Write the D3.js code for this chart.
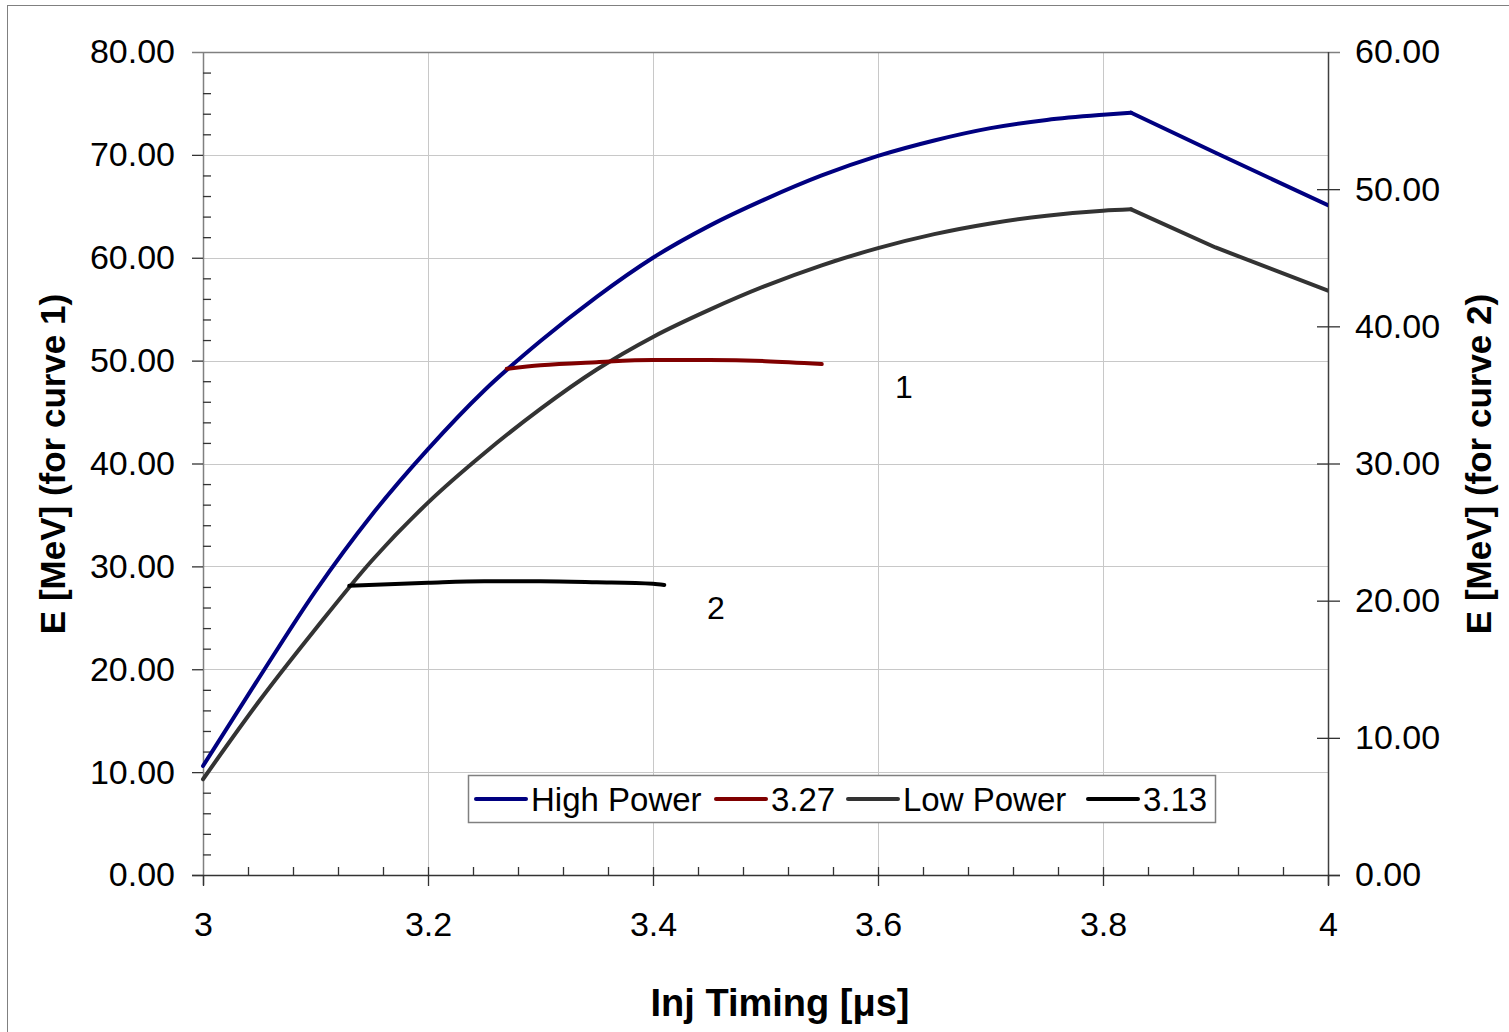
<!DOCTYPE html>
<html>
<head>
<meta charset="utf-8">
<script src="https://cdn.jsdelivr.net/npm/d3@7"></script>
<style>
  html, body { margin: 0; padding: 0; background: #fff; }
  svg { display: block; font-family: "Liberation Sans", Arial, sans-serif; }
</style>
</head>
<body>
<svg id="chart" width="1509" height="1032"></svg>
<script>
// ---- data ----
const xTickValues = [3, 3.2, 3.4, 3.6, 3.8, 4];
const xTickLabels = ["3", "3.2", "3.4", "3.6", "3.8", "4"];
const leftTickValues = [0, 10, 20, 30, 40, 50, 60, 70, 80];
const rightTickValues = [0, 10, 20, 30, 40, 50, 60];

// High Power (left axis, curve 1 family)
const highX = [3.00, 3.05, 3.10, 3.15, 3.20, 3.25, 3.30, 3.35, 3.40, 3.45, 3.50, 3.55, 3.60, 3.65, 3.70, 3.75, 3.80, 3.825, 3.90, 4.00];
const highY = [10.6, 19.2, 27.6, 35.0, 41.4, 47.1, 51.9, 56.2, 60.0, 63.1, 65.7, 68.0, 69.9, 71.4, 72.6, 73.4, 73.9, 74.1, 70.2, 65.1];

// 3.27 (left axis, curve 1)
const c327X = [3.27, 3.30, 3.35, 3.40, 3.45, 3.50, 3.55];
const c327Y = [49.2, 49.55, 49.85, 50.05, 50.05, 49.95, 49.67];

// Low Power (right axis, curve 2 family)
const lowX = [3.00, 3.05, 3.10, 3.15, 3.20, 3.25, 3.30, 3.35, 3.40, 3.45, 3.50, 3.55, 3.60, 3.65, 3.70, 3.75, 3.80, 3.825, 3.90, 4.00];
const lowY = [6.98, 12.68, 17.93, 22.91, 27.15, 30.75, 33.98, 36.85, 39.23, 41.2, 42.95, 44.45, 45.7, 46.72, 47.5, 48.07, 48.43, 48.53, 45.75, 42.6];

// 3.13 (right axis, curve 2)
const c313X = [3.13, 3.20, 3.25, 3.30, 3.35, 3.40, 3.41];
const c313Y = [21.08, 21.3, 21.41, 21.41, 21.34, 21.23, 21.15];

const seriesNames = ["High Power", "3.27", "Low Power", "3.13"];
const seriesColors = ["#000080", "#800000", "#333333", "#000000"];

// ---- layout ----
const svg = d3.select("#chart");
const L = 203, R = 1328, T = 52, B = 875;

const x = d3.scaleLinear().domain([3, 4]).range([L, R]);
const yL = d3.scaleLinear().domain([0, 80]).range([B, T]);
const yR = d3.scaleLinear().domain([0, 60]).range([B, T]);

// outer frame (left + top visible)
svg.append("rect").attr("x", 7.5).attr("y", 5.5).attr("width", 1600).attr("height", 1100)
  .attr("fill", "none").attr("stroke", "#808080").attr("stroke-width", 1);

// gridlines
const grid = svg.append("g");
grid.selectAll(".hg").data(leftTickValues.filter(v => v > 0 && v < 80)).join("line")
  .attr("x1", L).attr("x2", R).attr("y1", d => Math.round(yL(d)) + 0.5).attr("y2", d => Math.round(yL(d)) + 0.5)
  .attr("stroke", "#c8c8c8").attr("stroke-width", 1);
grid.selectAll(".vg").data(xTickValues.filter(v => v > 3 && v < 4)).join("line")
  .attr("y1", T).attr("y2", B).attr("x1", d => Math.round(x(d)) + 0.5).attr("x2", d => Math.round(x(d)) + 0.5)
  .attr("stroke", "#c8c8c8").attr("stroke-width", 1);

// top border line
svg.append("line").attr("x1", 192).attr("x2", 1340).attr("y1", T + 0.5).attr("y2", T + 0.5)
  .attr("stroke", "#808080").attr("stroke-width", 1.5);

function styleAxis(g, color) {
  g.select(".domain").remove();
  g.selectAll(".tick line").attr("stroke", color).attr("stroke-width", 1.3);
  g.selectAll("text").attr("font-size", 34).attr("fill", "#000")
    .attr("font-family", "'Liberation Sans', Arial, sans-serif");
}

// left axis line
svg.append("line").attr("x1", L + 0.5).attr("x2", L + 0.5).attr("y1", T).attr("y2", B + 10)
  .attr("stroke", "#808080").attr("stroke-width", 1.5);

// left axis major ticks + labels
const gLeft = svg.append("g").attr("transform", `translate(${L},0)`)
  .call(d3.axisLeft(yL).tickValues(leftTickValues).tickFormat(d3.format(".2f")).tickSize(11).tickPadding(17));
styleAxis(gLeft, "#333");
gLeft.selectAll(".tick").filter(d => d === 80).select("line").remove();

// left minor ticks (inside)
const leftMinor = d3.range(0, 81, 2).filter(v => v % 10 !== 0);
const gLeftMinor = svg.append("g").attr("transform", `translate(${L},0)`)
  .call(d3.axisLeft(yL).tickValues(leftMinor).tickFormat("").tickSize(-8));
styleAxis(gLeftMinor, "#333");

// right axis
svg.append("line").attr("x1", R + 0.5).attr("x2", R + 0.5).attr("y1", T).attr("y2", B + 10)
  .attr("stroke", "#404040").attr("stroke-width", 1.5);
const gRight = svg.append("g").attr("transform", `translate(${R},0)`)
  .call(d3.axisRight(yR).tickValues(rightTickValues).tickFormat(d3.format(".2f")).tickSize(12).tickPadding(15));
styleAxis(gRight, "#333");
gRight.selectAll(".tick").filter(d => d === 60).select("line").remove();
const gRightIn = svg.append("g").attr("transform", `translate(${R},0)`)
  .call(d3.axisRight(yR).tickValues(rightTickValues.filter(v => v > 0 && v < 60)).tickFormat("").tickSize(-11));
styleAxis(gRightIn, "#333");

// bottom axis
svg.append("line").attr("x1", 192).attr("x2", 1340).attr("y1", B + 0.5).attr("y2", B + 0.5)
  .attr("stroke", "#333").attr("stroke-width", 1.5);
const gBottom = svg.append("g").attr("transform", `translate(0,${B})`)
  .call(d3.axisBottom(x).tickValues(xTickValues).tickFormat((d, i) => xTickLabels[i]).tickSize(11).tickPadding(26));
styleAxis(gBottom, "#333");
const gBottomUp = svg.append("g").attr("transform", `translate(0,${B})`)
  .call(d3.axisBottom(x).tickValues(xTickValues.filter(v => v > 3 && v < 4)).tickFormat("").tickSize(-8));
styleAxis(gBottomUp, "#333");
const xMinor = d3.range(0, 26).map(i => 3 + i * 0.04).filter((v, i) => i % 5 !== 0);
const gBottomMinor = svg.append("g").attr("transform", `translate(0,${B})`)
  .call(d3.axisBottom(x).tickValues(xMinor).tickFormat("").tickSize(-8));
styleAxis(gBottomMinor, "#333");

// series: smooth (monotone) rise, straight fall after a sharp peak for the main curves
const series = [
  { xs: highX, ys: highY, scale: yL, color: seriesColors[0], split: true },
  { xs: lowX, ys: lowY, scale: yR, color: seriesColors[2], split: true },
  { xs: c327X, ys: c327Y, scale: yL, color: seriesColors[1], split: false },
  { xs: c313X, ys: c313Y, scale: yR, color: seriesColors[3], split: false }
];
const clip = svg.append("clipPath").attr("id", "plotclip").append("rect")
  .attr("x", L - 4).attr("y", T - 4).attr("width", R - L + 4).attr("height", B - T + 8);
const gSeries = svg.append("g").attr("clip-path", "url(#plotclip)");
series.forEach(s => {
  const pts = s.xs.map((v, i) => [v, s.ys[i]]);
  const smooth = d3.line().x(d => x(d[0])).y(d => s.scale(d[1])).curve(d3.curveMonotoneX);
  const straight = d3.line().x(d => x(d[0])).y(d => s.scale(d[1])).curve(d3.curveLinear);
  let parts;
  if (s.split) {
    const pk = d3.maxIndex(pts, d => d[1]);
    parts = [[pts.slice(0, pk + 1), smooth], [pts.slice(pk), straight]];
  } else {
    parts = [[pts, smooth]];
  }
  parts.forEach(([p, gen]) => {
    gSeries.append("path").datum(p)
      .attr("d", gen)
      .attr("fill", "none").attr("stroke", s.color).attr("stroke-width", 4)
      .attr("stroke-linejoin", "round").attr("stroke-linecap", "round");
  });
});

// annotations
svg.append("text").attr("x", 904).attr("y", 398).attr("text-anchor", "middle")
  .attr("font-size", 32).text("1");
svg.append("text").attr("x", 716).attr("y", 619).attr("text-anchor", "middle")
  .attr("font-size", 32).text("2");

// axis titles
svg.append("text").attr("x", 780).attr("y", 1016).attr("text-anchor", "middle")
  .attr("font-size", 38).attr("font-weight", "bold").text("Inj Timing [μs]");
svg.append("text").attr("transform", "translate(65,464) rotate(-90)").attr("text-anchor", "middle")
  .attr("font-size", 35).attr("font-weight", "bold").text("E [MeV] (for curve 1)");
svg.append("text").attr("transform", "translate(1491,464) rotate(-90)").attr("text-anchor", "middle")
  .attr("font-size", 35).attr("font-weight", "bold").text("E [MeV] (for curve 2)");

// legend
const lg = svg.append("g");
lg.append("rect").attr("x", 468.5).attr("y", 775.5).attr("width", 747).attr("height", 47)
  .attr("fill", "#fff").attr("stroke", "#808080").attr("stroke-width", 1.5);
const legendX = [476, 716, 848, 1088];
seriesNames.forEach((name, i) => {
  lg.append("line").attr("x1", legendX[i]).attr("x2", legendX[i] + 50).attr("y1", 799).attr("y2", 799)
    .attr("stroke", seriesColors[i]).attr("stroke-width", 4).attr("stroke-linecap", "round");
  lg.append("text").attr("x", legendX[i] + 55).attr("y", 811).attr("font-size", 33).text(name);
});
</script>
</body>
</html>
